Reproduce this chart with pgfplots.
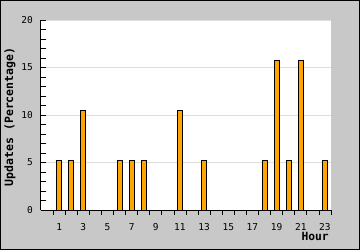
\documentclass[border=0pt]{standalone}
\usepackage{pgfplots}
\pgfplotsset{compat=1.18}
\usepackage{fontspec}
\setmonofont{DejaVu Sans Mono}
\definecolor{bggray}{RGB}{200,200,200}
\definecolor{barorange}{RGB}{255,165,0}
\definecolor{gridgray}{RGB}{221,221,221}
\begin{document}
\begin{tikzpicture}[x=1pt,y=1pt]
\fill[bggray] (0,0) rectangle (360,250);
\draw[black,line width=1pt] (0.5,0.5) rectangle (359.5,249.5);
\begin{axis}[
  at={(41pt,40pt)}, anchor=south west,
  scale only axis, width=290pt, height=190pt,
  xmin=-0.5, xmax=23.5, ymin=0, ymax=20,
  axis lines=left, axis line style={-, line width=1pt},
  axis background/.style={fill=white},
  tick align=inside,
  xtick={1,3,...,23},
  minor xtick={0.5,1.5,...,23.5},
  major x tick style={draw=none},
  ytick={0,5,10,15,20},
  minor ytick={1,2,3,4,6,7,8,9,11,12,13,14,16,17,18,19},
  major tick length=5pt, minor tick length=4.5pt,
  tick style={black, line width=0.8pt},
  ymajorgrids, major grid style={gridgray, line width=0.8pt},
  /pgf/number format/assume math mode=true,
  ticklabel style={font=\ttfamily\fontsize{9.5}{10}\selectfont},
  xticklabel style={anchor=base, inner sep=0pt, yshift=-15.5pt},
  yticklabel style={anchor=east, inner sep=0pt, xshift=-8pt},
  xlabel={Hour},
  ylabel={Updates (Percentage)},
  xlabel style={font=\ttfamily\bfseries\fontsize{11.3}{12}\selectfont, at={(axis description cs:1,0)}, anchor=base east, inner sep=0pt, yshift=-30pt, xshift=-2pt},
  ylabel style={font=\ttfamily\bfseries\fontsize{11.5}{12}\selectfont, at={(axis description cs:-0.107,0.49)}, anchor=center},
  ybar, bar width=5pt, bar shift=0pt,
]
\addplot[fill=barorange, draw=black, line width=1pt] coordinates {
(1,5.263) (2,5.263) (3,10.526) (6,5.263) (7,5.263) (8,5.263)
(11,10.526) (13,5.263) (18,5.263) (19,15.789) (20,5.263) (21,15.789) (23,5.263)
};
\end{axis}
\end{tikzpicture}
\end{document}
